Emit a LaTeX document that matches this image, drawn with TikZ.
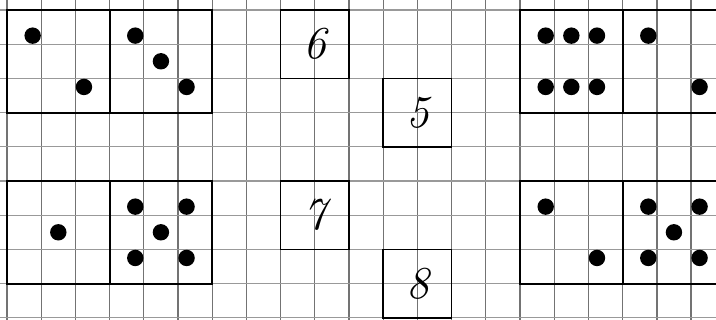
\documentclass[tikz,border=0pt]{standalone}
\usepackage{fontspec}
\begin{document}
\begin{tikzpicture}[
  vgrid/.style={draw=black!55, line width=1.1pt},
  hgrid/.style={draw=black!40, line width=1.1pt},
  diebox/.style={draw=black, line width=1.6pt, minimum width=3cm, minimum height=3cm, inner sep=0pt, outer sep=0pt},
  numbox/.style={draw=black, line width=1.4pt, minimum width=2cm, minimum height=2cm, inner sep=0pt, outer sep=0pt, font=\fontsize{38}{38}\selectfont\itshape},
  pip/.style={circle, fill=black, minimum size=0.48cm, inner sep=0pt}
]
\useasboundingbox (-0.205,-9.064) rectangle (20.73,0.292);
\clip (-0.205,-9.064) rectangle (20.73,0.292);
% grid paper
\foreach \gx in {0,...,21} \draw[vgrid] (\gx,1) -- (\gx,-10);
\foreach \gy in {0,...,9} \draw[hgrid] (-1,-\gy) -- (22,-\gy);
% dice boxes
\node[diebox] (dA) at (1.5,-1.5) {};
\node[diebox] (dB) at (4.5,-1.5) {};
\node[diebox] (dC) at (16.5,-1.5) {};
\node[diebox] (dD) at (19.5,-1.5) {};
\node[diebox] (dE) at (1.5,-6.5) {};
\node[diebox] (dF) at (4.5,-6.5) {};
\node[diebox] (dG) at (16.5,-6.5) {};
\node[diebox] (dH) at (19.5,-6.5) {};
% pips
\foreach \x/\y [count=\i] in {0.75/-0.75, 2.25/-2.25} \node[pip] (pA\i) at (\x,\y) {};
\foreach \x/\y [count=\i] in {3.75/-0.75, 4.5/-1.5, 5.25/-2.25} \node[pip] (pB\i) at (\x,\y) {};
\foreach \x/\y [count=\i] in {15.75/-0.75, 16.5/-0.75, 17.25/-0.75, 15.75/-2.25, 16.5/-2.25, 17.25/-2.25} \node[pip] (pC\i) at (\x,\y) {};
\foreach \x/\y [count=\i] in {18.75/-0.75, 20.25/-2.25} \node[pip] (pD\i) at (\x,\y) {};
\foreach \x/\y [count=\i] in {1.5/-6.5} \node[pip] (pE\i) at (\x,\y) {};
\foreach \x/\y [count=\i] in {3.75/-5.75, 5.25/-5.75, 4.5/-6.5, 3.75/-7.25, 5.25/-7.25} \node[pip] (pF\i) at (\x,\y) {};
\foreach \x/\y [count=\i] in {15.75/-5.75, 17.25/-7.25} \node[pip] (pG\i) at (\x,\y) {};
\foreach \x/\y [count=\i] in {18.75/-5.75, 20.25/-5.75, 19.5/-6.5, 18.75/-7.25, 20.25/-7.25} \node[pip] (pH\i) at (\x,\y) {};
% number boxes
\node[numbox] (n6) at (9,-1) {6};
\node[numbox] (n5) at (12,-3) {5};
\node[numbox] (n7) at (9,-6) {7};
\node[numbox] (n8) at (12,-8) {8};
\end{tikzpicture}
\end{document}
